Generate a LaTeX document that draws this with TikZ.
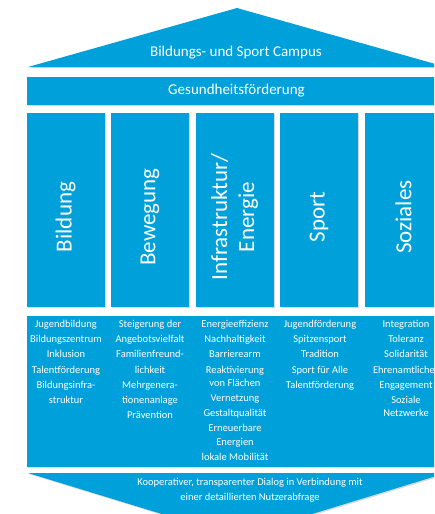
\documentclass[tikz,border=0pt]{standalone}
\usepackage{fontspec}
\setmainfont{Carlito}
\usetikzlibrary{shadows}
\definecolor{campusblau}{RGB}{0,161,219}

\begin{document}
\begin{tikzpicture}[%
    x=1pt, y=-1pt,              % pixel units, counted from the top
    every node/.style={text=white},
    ]
% -------------------------------------------------
% Styles for the house
\tikzset{
  flaeche/.style={fill=campusblau, drop shadow={shadow xshift=1.2pt, shadow yshift=-1.2pt, opacity=0.3}},
  balken/.style={flaeche, minimum width=419pt, minimum height=28pt, inner sep=0pt},
  saeule/.style={flaeche, minimum width=78pt, minimum height=194pt, inner sep=0pt},
  titel/.style={font=\fontsize{23}{27}\selectfont, rotate=90, align=center},
  liste/.style={font=\fontsize{10.5}{15.2}\selectfont, align=center, anchor=north, inner sep=0pt},
  klein/.style={font=\fontsize{15}{18}\selectfont}
}
\useasboundingbox (0,0) rectangle (434,514);
\clip (0,0) rectangle (434,514);
% -------------------------------------------------
% Roof and beam
\fill[flaeche] (28,67) -- (237,8) -- (446,67) -- cycle;
\node[klein] (campus) at (236,53) {Bildungs- und Sport Campus};
\node[balken, klein] (gesund) at (236.5,91) {Gesundheitsförderung};

% The five pillars
\node[saeule] (bildung) at (65.5,210) {};
\node[saeule] (bewegung) at (150,210) {};
\node[saeule] (infra) at (234.5,210) {};
\node[saeule] (sport) at (319,210) {};
\node[saeule] (soziales) at (403.5,210) {};

\node[titel] (tbildung) at (65.5,217) {Bildung};
\node[titel] (tbewegung) at (150,217) {Bewegung};
\node[titel] (tinfra) at (234.5,217) {Infrastruktur/\\Energie};
\node[titel] (tsport) at (319,217) {Sport};
\node[titel] (tsoziales) at (403.5,217) {Soziales};

% -------------------------------------------------
% Foundation with the lists
\fill[flaeche] (27,316) rectangle (446,467);
\node[liste] (lbildung) at (66,320) {Jugendbildung\\Bildungszentrum\\Inklusion\\Talentförderung\\Bildungsinfra-\\struktur};
\node[liste] (lbewegung) at (150,320) {Steigerung der\\Angebotsvielfalt\\Familienfreund-\\lichkeit\\Mehrgenera-\\tionenanlage\\Prävention};
\node[liste] (linfra) at (235,320) {Energieeffizienz\\Nachhaltigkeit\\Barrierearm\\Reaktivierung\\[-2pt]von Flächen\\Vernetzung\\Gestaltqualität\\Erneuerbare\\[-2pt]Energien\\lokale Mobilität};
\node[liste] (lsport) at (320,320) {Jugendförderung\\Spitzensport\\Tradition\\Sport für Alle\\Talentförderung};
\node[liste] (lsoziales) at (406,320) {Integration\\Toleranz\\Solidarität\\Ehrenamtliches\\Engagement\\Soziale\\[-2pt]Netzwerke};

% Ground: the dialog
\fill[flaeche] (28,473) -- (446,473) -- (237,537) -- cycle;
\node[liste, anchor=center] (dialog) at (250,490) {Kooperativer, transparenter Dialog in Verbindung mit\\einer detaillierten Nutzerabfrage};
% -------------------------------------------------
\end{tikzpicture}
\end{document}
